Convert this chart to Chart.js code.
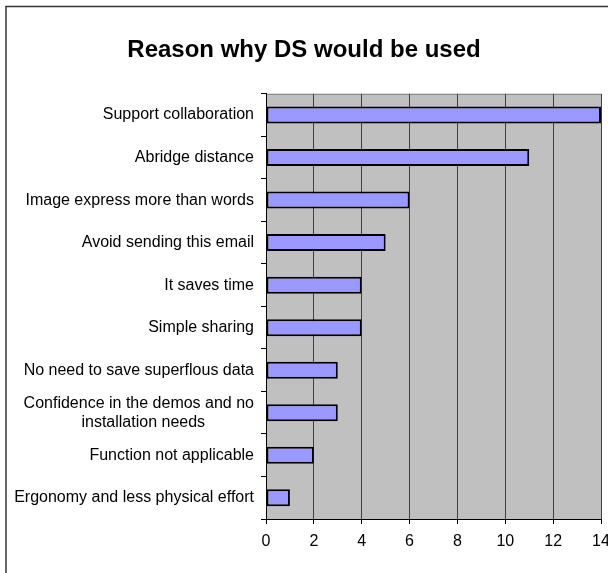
<!DOCTYPE html>
<html>
<head>
<meta charset="utf-8">
<script src="https://cdn.jsdelivr.net/npm/chart.js@4"></script>
<style>
  html, body { margin: 0; padding: 0; background: #fff; }
  canvas { display: block; }
</style>
</head>
<body>
<canvas id="grafica" width="608" height="573"></canvas>
<script>
// datos
var reasons = [
  'Support collaboration',
  'Abridge distance',
  'Image express more than words',
  'Avoid sending this email',
  'It saves time',
  'Simple sharing',
  'No need to save superflous data',
  ['Confidence in the demos and no', 'installation needs           '],
  'Function not applicable',
  'Ergonomy and less physical effort'
];
var counts = [14, 11, 6, 5, 4, 4, 3, 3, 2, 1];
var axisMin = 0;
var axisMax = 14;
var axisStep = 2;

// fondo gris del area y marco exterior
var fondoPlugin = {
  id: 'fondo',
  beforeDraw: function(chart) {
    var ctx = chart.ctx;
    var a = chart.chartArea;
    ctx.save();
    ctx.fillStyle = '#ffffff';
    ctx.fillRect(0, 0, chart.width, chart.height);
    ctx.fillStyle = '#c0c0c0';
    ctx.fillRect(a.left, a.top, a.right - a.left, a.bottom - a.top);
    ctx.strokeStyle = '#808080';
    ctx.lineWidth = 1;
    ctx.beginPath();
    ctx.moveTo(a.left, a.top + 0.5);
    ctx.lineTo(a.right, a.top + 0.5);
    ctx.stroke();
    // marco exterior
    ctx.strokeStyle = '#333333';
    ctx.lineWidth = 1.5;
    ctx.beginPath();
    ctx.moveTo(6, chart.height);
    ctx.lineTo(6, 6.5);
    ctx.lineTo(chart.width, 6.5);
    ctx.stroke();
    ctx.restore();
  }
};

var ctx = document.getElementById('grafica').getContext('2d');
new Chart(ctx, {
  type: 'bar',
  data: {
    labels: reasons,
    datasets: [{
      data: counts,
      backgroundColor: '#9999ff',
      borderColor: '#000000',
      borderWidth: 2,
      borderSkipped: false,
      barPercentage: 0.4,
      categoryPercentage: 1
    }]
  },
  options: {
    indexAxis: 'y',
    responsive: false,
    animation: false,
    layout: { padding: { left: 0, right: 0, top: 0, bottom: 0 } },
    plugins: {
      legend: { display: false },
      tooltip: { enabled: false },
      title: {
        display: true,
        text: 'Reason why DS would be used',
        color: '#000',
        font: { family: 'Liberation Sans, Arial, sans-serif', size: 24, weight: 'bold' },
        padding: { top: 36, bottom: 29 }
      }
    },
    scales: {
      x: {
        min: axisMin,
        max: axisMax,
        ticks: {
          stepSize: axisStep,
          color: '#000',
          padding: 8,
          font: { family: 'Liberation Sans, Arial, sans-serif', size: 16 }
        },
        grid: {
          color: '#404040',
          lineWidth: 1,
          tickLength: 5,
          tickColor: '#000'
        },
        border: { color: '#000', width: 1 },
        afterFit: function(scale) {
          scale.height = 54;
          scale.paddingRight = 7;
          scale.paddingLeft = 0;
        }
      },
      y: {
        ticks: {
          color: '#000',
          padding: 7,
          font: { family: 'Liberation Sans, Arial, sans-serif', size: 16 }
        },
        grid: {
          drawOnChartArea: false,
          tickLength: 5,
          color: '#000'
        },
        border: { color: '#000', width: 1 },
        afterFit: function(scale) { scale.width = 266; }
      }
    }
  },
  plugins: [fondoPlugin]
});
</script>
</body>
</html>
